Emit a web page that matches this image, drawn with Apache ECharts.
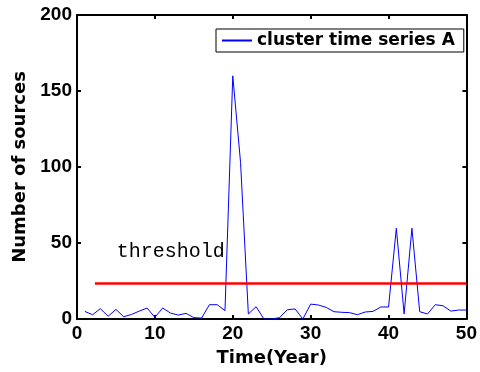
<!DOCTYPE html>
<html><head><meta charset="utf-8">
<script src="https://cdn.jsdelivr.net/npm/echarts@6/dist/echarts.min.js"></script>
<style>html,body{margin:0;padding:0;background:#fff}#c{width:480px;height:372px}</style>
</head><body><div id="c"></div>
<script>
const years = [1,2,3,4,5,6,7,8,9,10,11,12,13,14,15,16,17,18,19,20,21,22,23,24,25,26,27,28,29,30,31,32,33,34,35,36,37,38,39,40,41,42,43,44,45,46,47,48,49,50];
const sources = [5,2.8,6.8,1.8,6.3,1.5,3,5.2,7.2,1.1,7.2,3.9,2.6,3.7,0.9,0.6,9.4,9.4,5.5,160,103,3.3,8.1,0,0,0.9,6.1,6.6,0,9.8,9.2,7.6,4.8,4.4,4.2,2.8,4.6,5,7.9,7.9,59.7,3.3,59.7,4.8,3.3,9.4,8.7,5.2,5.9,5.9];
const thresholdX = [2.3, 50];
const thresholdY = 23.4;
const thresholdLabelPos = [5.1, 45];
const xTicks = [0,10,20,30,40,50];
const yTicks = [0,50,100,150,200];

const chart = echarts.init(document.getElementById('c'));
const tickFont = {fontFamily:'Liberation Sans', fontWeight:'bold', fontSize:19, color:'#000'};
const axisLineStyle = {color:'#000', width:2};
chart.setOption({
  animation:false,
  grid:{left:77, right:10, top:15, bottom:52},
  legend:{
    data:['cluster time series A'],
    left:216, top:29,
    padding:[3,9,3,6],
    itemWidth:30, itemHeight:2, itemGap:4,
    backgroundColor:'#fff', borderColor:'#000', borderWidth:1,
    textStyle:{fontFamily:'DejaVu Sans', fontWeight:'bold', fontSize:17, color:'#000', padding:[0,0,0,0]},
    icon:'rect'
  },
  xAxis:[{
    type:'value', min:xTicks[0], max:xTicks[xTicks.length-1], interval:10,
    name:'Time(Year)', nameLocation:'middle', nameGap:30,
    nameTextStyle:{fontFamily:'DejaVu Sans', fontWeight:'bold', fontSize:18, color:'#000'},
    axisLine:{show:true, onZero:false, lineStyle:axisLineStyle},
    axisTick:{show:true, inside:true, length:4, lineStyle:{color:'#000', width:2}},
    axisLabel:Object.assign({margin:5}, tickFont),
    splitLine:{show:false}
  },{
    type:'value', position:'top', min:0, max:50, interval:10,
    axisLine:{show:true, onZero:false, lineStyle:axisLineStyle},
    axisTick:{show:true, inside:true, length:4, lineStyle:{color:'#000', width:2}},
    axisLabel:{show:false}, splitLine:{show:false}
  }],
  yAxis:[{
    type:'value', min:yTicks[0], max:yTicks[yTicks.length-1], interval:50,
    name:'Number of sources', nameLocation:'middle', nameGap:45,
    nameTextStyle:{fontFamily:'DejaVu Sans', fontWeight:'bold', fontSize:18, color:'#000'},
    axisLine:{show:true, onZero:false, lineStyle:axisLineStyle},
    axisTick:{show:true, inside:true, length:4, lineStyle:{color:'#000', width:2}},
    axisLabel:Object.assign({margin:5}, tickFont),
    splitLine:{show:false}
  },{
    type:'value', position:'right', min:0, max:200, interval:50,
    axisLine:{show:true, onZero:false, lineStyle:axisLineStyle},
    axisTick:{show:true, inside:true, length:4, lineStyle:{color:'#000', width:2}},
    axisLabel:{show:false}, splitLine:{show:false}
  }],
  series:[{
    name:'cluster time series A', type:'line',
    data: years.map((y,i)=>[y, sources[i]]),
    showSymbol:false, symbol:'none',
    lineStyle:{color:'#0000ff', width:1}, itemStyle:{color:'#0000ff'}
  },{
    name:'threshold', type:'line',
    data: thresholdX.map(x=>[x, thresholdY]),
    showSymbol:false, symbol:'none',
    lineStyle:{color:'#ff0000', width:2.5}, itemStyle:{color:'#ff0000'}, z:3
  }]
});
const p = chart.convertToPixel({gridIndex:0}, thresholdLabelPos);
chart.setOption({graphic:[{type:'text', left:p[0], top:p[1]-9, style:{text:'threshold', font:'20px "Liberation Mono"', fill:'#000'}}]});
</script></body></html>
